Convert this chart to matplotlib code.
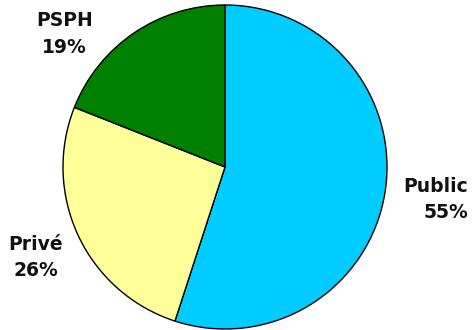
import matplotlib
matplotlib.use("Agg")
import matplotlib.pyplot as plt

labels = ["Public", "Privé", "PSPH"]
shares = [55, 26, 19]
colors = ["#00CCFF", "#FFFF99", "#008000"]

W, H = 473, 330
fig = plt.figure(figsize=(W / 100, H / 100), dpi=100)

# pie centre and radius in pixels
cx, cy, r = 225, 167, 162
ax = fig.add_axes([(cx - r) / W, (H - cy - r) / H, 2 * r / W, 2 * r / H])

ax.pie(shares, colors=colors, startangle=90, counterclock=False,
       wedgeprops=dict(edgecolor="black", linewidth=1.0))
ax.set_xlim(-1, 1)
ax.set_ylim(-1, 1)
ax.set_aspect("equal")
ax.axis("off")

# label anchors in data units (radius = 1)
spots = [(1.50, -0.20, "right"), (-1.17, -0.56, "center"), (-0.99, 0.82, "center")]
for name, val, (x, y, ha) in zip(labels, shares, spots):
    ax.text(x, y, f"{name}\n{val}%", ha=ha, va="center", multialignment=ha,
            fontsize=13.5, fontweight="bold", family="DejaVu Sans",
            color="#111111", linespacing=1.5)

fig.savefig("out.png", dpi=100)
